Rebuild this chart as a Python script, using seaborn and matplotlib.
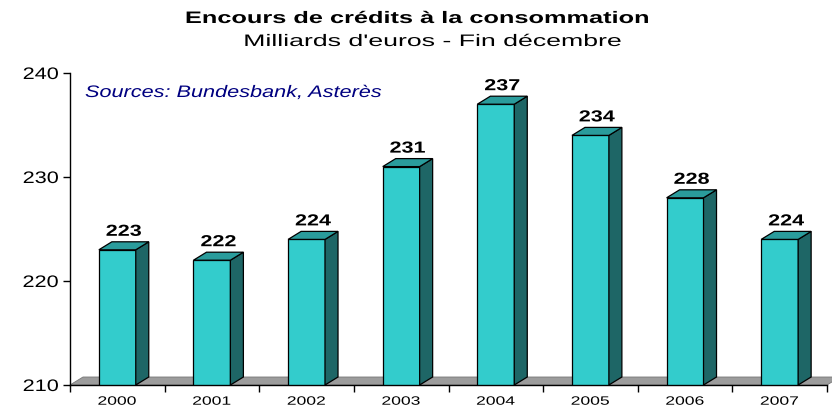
import matplotlib
matplotlib.use("Agg")
import matplotlib.pyplot as plt
import seaborn as sns
import pandas as pd
from matplotlib.patches import Polygon
from matplotlib.patheffects import AbstractPathEffect
from matplotlib.transforms import Affine2D

# Données
annees = ["2000", "2001", "2002", "2003", "2004", "2005", "2006", "2007"]
encours = [223, 222, 224, 231, 237, 234, 228, 224]

df = pd.DataFrame({"annee": annees, "encours": encours})


class Etirement(AbstractPathEffect):
    """Étire le texte horizontalement (le graphique d'origine est étiré)"""

    def __init__(self, texte, sx):
        super().__init__()
        self.texte = texte
        self.sx = sx

    def draw_path(self, renderer, gc, tpath, affine, rgbFace=None):
        bb = self.texte.get_window_extent(renderer)
        ha = self.texte.get_horizontalalignment()
        cx = {"left": bb.x0, "right": bb.x1}.get(ha, (bb.x0 + bb.x1) / 2)
        aff = affine + Affine2D().translate(-cx, 0).scale(self.sx, 1).translate(cx, 0)
        renderer.draw_path(gc, tpath, aff, rgbFace)


def etirer(texte, sx):
    texte.set_path_effects([Etirement(texte, sx)])


sns.set_theme(style="white")
plt.rcParams['font.family'] = ['Liberation Sans', 'DejaVu Sans']

fig = plt.figure(figsize=(8.32, 4.08), dpi=100)
ax = fig.add_axes([70 / 832, 23 / 408, 757 / 832, 312 / 408])

ymin, ymax = 210, 240
largeur = 0.39
# profondeur 3D en unités de données (≈13 px à droite, 8 px vers le haut)
px_x = 757 / 8
px_y = 312 / (ymax - ymin)
dx = 13 / px_x
dy = 8 / px_y

face = "#33CCCC"
cote = "#1E6666"
dessus = "#2A9C9C"

sns.barplot(data=df, x="annee", y="encours", color=face, width=largeur,
            edgecolor="black", linewidth=0.9, saturation=1, ax=ax, zorder=3)

ax.set_xlim(-0.5, len(annees) - 0.5)
ax.set_ylim(ymin, ymax)

# Sol gris
sol = Polygon([(-0.5, ymin), (len(annees) - 0.5, ymin),
               (len(annees) - 0.5 + dx, ymin + dy), (-0.5 + dx, ymin + dy)],
              closed=True, facecolor="#9C9C9C", edgecolor="#777777",
              linewidth=0.6, zorder=1, clip_on=False)
ax.add_patch(sol)

# Faces latérales et dessus des barres
for p, val in zip(ax.patches[:len(annees)], encours):
    x0 = p.get_x()
    x1 = x0 + p.get_width()
    cote_poly = Polygon([(x1, ymin), (x1 + dx, ymin + dy), (x1 + dx, val + dy), (x1, val)],
                        closed=True, facecolor=cote, edgecolor="black", linewidth=0.9, zorder=3)
    dessus_poly = Polygon([(x0, val), (x1, val), (x1 + dx, val + dy), (x0 + dx, val + dy)],
                          closed=True, facecolor=dessus, edgecolor="black", linewidth=0.9, zorder=3)
    ax.add_patch(cote_poly)
    ax.add_patch(dessus_poly)
    t = ax.text((x0 + x1) / 2 + dx / 2, val + dy + 6 / px_y, str(val), ha="center",
                va="baseline", fontsize=11.5, fontweight="bold", color="black")
    etirer(t, 1.35)

# Axes
for s in ["top", "right"]:
    ax.spines[s].set_visible(False)
for s in ["left", "bottom"]:
    ax.spines[s].set_color("black")
    ax.spines[s].set_linewidth(1)
    ax.spines[s].set_zorder(4)

ax.set_yticks([210, 220, 230, 240])
ax.tick_params(axis="y", direction="out", length=5, width=1, color="black",
               labelsize=12, labelcolor="black", pad=3, left=True)
ax.set_xticks(range(len(annees)))
ax.set_xticks([i - 0.5 for i in range(len(annees) + 1)], minor=True)
ax.tick_params(axis="x", which="major", length=0, labelsize=8.7, labelcolor="black", pad=7.7)
ax.tick_params(axis="x", which="minor", direction="out", length=5, width=1,
               color="black", bottom=True)
ax.set_xlabel("")
ax.set_ylabel("")

for t in ax.get_yticklabels():
    etirer(t, 1.3)
for t in ax.get_xticklabels():
    etirer(t, 1.45)

t = fig.text(85 / 832, 1 - 97 / 408, "Sources: Bundesbank, Asterès", fontsize=12,
             fontstyle="italic", color="#000080", ha="left", va="baseline")
etirer(t, 1.3)

t = fig.text(416 / 832, 1 - 23 / 408, "Encours de crédits à la consommation", ha="center",
             va="baseline", fontsize=12, fontweight="bold", color="black")
etirer(t, 1.52)
t = fig.text(433 / 832, 1 - 46 / 408, "Milliards d'euros - Fin décembre", ha="center",
             va="baseline", fontsize=12, color="black")
etirer(t, 1.6)

fig.savefig("out.png", dpi=100)
